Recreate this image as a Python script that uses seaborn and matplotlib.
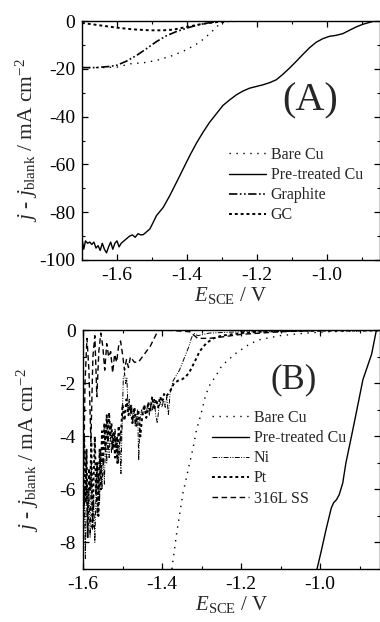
import matplotlib
matplotlib.use("Agg")
import matplotlib.pyplot as plt
from matplotlib.ticker import MultipleLocator
import seaborn as sns

# ---------------- panel A data ----------------
a_bare_e = [-1.70, -1.65, -1.60, -1.558, -1.525, -1.487, -1.44, -1.401, -1.363,
            -1.335, -1.316, -1.302, -1.28, -1.25, -0.85]
a_bare_j = [-19.5, -19.5, -19.3, -17.8, -17.5, -16.5, -14.4, -12.0, -8.8,
            -5.3, -2.5, -0.8, -0.1, 0.0, 0.0]

a_pre_e = [-1.700, -1.695, -1.690, -1.684, -1.678, -1.672, -1.666, -1.660, -1.654,
           -1.648, -1.642, -1.636, -1.630, -1.624, -1.618, -1.612, -1.606, -1.600,
           -1.594, -1.588, -1.580, -1.572, -1.564, -1.556, -1.548, -1.540, -1.532,
           -1.525, -1.506, -1.487, -1.468, -1.449, -1.430, -1.411, -1.392, -1.373,
           -1.354, -1.335, -1.316, -1.297, -1.278, -1.259, -1.240, -1.221, -1.202,
           -1.183, -1.164, -1.145, -1.126, -1.107, -1.088, -1.069, -1.050, -1.031,
           -1.012, -0.993, -0.974, -0.955, -0.936, -0.917, -0.898, -0.879, -0.864,
           -0.85]
a_pre_j = [-91.0, -95.5, -92.0, -93.0, -92.5, -93.5, -92.5, -95.0, -94.0,
           -96.0, -93.0, -95.5, -97.0, -94.5, -92.5, -95.5, -93.0, -92.0,
           -94.5, -93.0, -92.0, -91.0, -90.0, -89.5, -90.5, -89.0, -89.5,
           -89.4, -87.0, -81.4, -78.0, -73.0, -67.5, -61.9, -56.3, -51.1,
           -46.5, -42.3, -38.8, -35.3, -33.0, -30.9, -29.3, -28.1, -27.4,
           -26.7, -25.8, -24.6, -22.3, -19.7, -16.9, -14.0, -11.2, -8.9,
           -7.4, -6.4, -6.0, -5.3, -3.9, -2.5, -1.4, -0.6, 0.0,
           0.0]

a_gra_e = [-1.70, -1.66, -1.62, -1.60, -1.573, -1.544, -1.516, -1.487, -1.459,
           -1.43, -1.401, -1.373, -1.344, -1.316, -1.287, -0.85]
a_gra_j = [-19.5, -19.5, -19.0, -18.5, -16.8, -14.4, -11.6, -8.6, -6.2,
           -4.4, -3.0, -1.8, -0.9, -0.3, 0.0, 0.0]

a_gc_e = [-1.70, -1.65, -1.60, -1.554, -1.506, -1.468, -1.439, -1.401, -1.363,
          -1.325, -1.287, -1.25, -0.85]
a_gc_j = [-0.8, -1.8, -2.8, -3.5, -3.9, -3.9, -3.6, -2.5, -1.4,
          -0.6, -0.1, 0.0, 0.0]

# ---------------- panel B data ----------------
b_bare_e = [-1.375, -1.372, -1.363, -1.355, -1.347, -1.334, -1.321, -1.313, -1.306,
            -1.298, -1.29, -1.279, -1.262, -1.25, -1.237, -1.212, -1.178, -1.153,
            -1.103, -1.035, -0.98, -0.85]
b_bare_j = [-9.0, -8.65, -7.64, -6.89, -6.13, -5.25, -4.4, -3.75, -3.4,
            -2.95, -2.45, -2.05, -1.67, -1.36, -1.17, -0.85, -0.51, -0.35,
            -0.2, -0.1, -0.05, 0.0]

b_pre_e = [-1.008, -0.997, -0.985, -0.972, -0.966, -0.959, -0.952, -0.943, -0.935,
           -0.921, -0.91, -0.892, -0.87, -0.858, -0.85]
b_pre_j = [-9.0, -8.3, -7.5, -6.7, -6.5, -6.39, -6.2, -5.76, -5.0,
           -4.0, -3.2, -1.86, -0.9, 0.0, 0.0]

b_ni_e = [-1.600, -1.597, -1.594, -1.591, -1.588, -1.585, -1.582, -1.579, -1.576,
          -1.573, -1.570, -1.567, -1.564, -1.561, -1.558, -1.555, -1.552, -1.549,
          -1.546, -1.543, -1.540, -1.537, -1.534, -1.531, -1.528, -1.525, -1.522,
          -1.519, -1.516, -1.513, -1.510, -1.507, -1.504, -1.501, -1.498, -1.495,
          -1.492, -1.489, -1.486, -1.483, -1.480, -1.477, -1.474, -1.471, -1.468,
          -1.465, -1.462, -1.459, -1.456, -1.452, -1.448, -1.444, -1.440, -1.436,
          -1.432, -1.428, -1.424, -1.420, -1.416, -1.412, -1.408, -1.404, -1.400,
          -1.396, -1.392, -1.388, -1.384, -1.380, -1.372, -1.364, -1.356, -1.348,
          -1.340, -1.332, -1.326, -1.320, -1.310, -1.280, -1.200, -1.100, -1.000,
          -0.85]
b_ni_j = [-8.5, -6.0, -8.6, -5.5, -7.0, -6.0, -7.8, -5.0, -7.5,
          -6.2, -8.0, -6.0, -7.0, -5.5, -6.5, -4.5, -6.0, -4.8,
          -5.8, -4.2, -5.0, -4.0, -4.8, -3.8, -4.6, -3.9, -4.4,
          -3.7, -4.5, -4.0, -5.0, -4.2, -5.4, -3.5, -1.8, -1.6,
          -2.0, -1.8, -3.0, -2.6, -3.2, -2.8, -3.4, -3.0, -3.6,
          -3.2, -3.0, -4.9, -3.4, -3.0, -3.2, -2.9, -3.1, -2.8,
          -3.2, -2.7, -3.0, -2.6, -3.2, -3.5, -2.9, -2.7, -2.9,
          -2.6, -2.9, -2.5, -3.2, -2.4, -1.9, -1.7, -1.5, -1.2,
          -0.9, -0.6, -0.3, -0.1, -0.2, -0.1, -0.05, -0.05, 0.0,
          0.0]

b_pt_e = [-1.600, -1.597, -1.594, -1.591, -1.588, -1.585, -1.582, -1.579, -1.576,
          -1.573, -1.570, -1.567, -1.564, -1.561, -1.558, -1.555, -1.552, -1.549,
          -1.546, -1.543, -1.540, -1.537, -1.534, -1.531, -1.528, -1.525, -1.522,
          -1.519, -1.516, -1.513, -1.510, -1.505, -1.500, -1.495, -1.490, -1.485,
          -1.480, -1.475, -1.470, -1.465, -1.460, -1.455, -1.450, -1.445, -1.440,
          -1.435, -1.430, -1.425, -1.420, -1.415, -1.410, -1.405, -1.400, -1.395,
          -1.390, -1.380, -1.370, -1.360, -1.350, -1.340, -1.330, -1.317, -1.305,
          -1.288, -1.270, -1.250, -1.200, -1.150, -1.100, -0.85]
b_pt_j = [-5.0, -4.0, -6.5, -4.5, -7.8, -5.2, -6.0, -4.2, -7.5,
          -5.5, -4.0, -6.2, -5.0, -7.0, -4.5, -6.0, -3.8, -5.0,
          -3.5, -4.5, -3.2, -4.2, -3.1, -4.0, -3.5, -4.5, -3.8,
          -4.8, -4.0, -5.0, -3.6, -4.2, -2.8, -3.4, -2.6, -3.2,
          -2.8, -3.5, -2.9, -3.6, -3.0, -4.0, -3.2, -2.8, -3.3,
          -2.7, -3.1, -2.5, -3.0, -2.6, -2.9, -2.5, -2.7, -2.4,
          -2.5, -2.3, -2.0, -1.9, -1.85, -1.75, -1.55, -1.17, -0.79,
          -0.48, -0.3, -0.2, -0.1, -0.05, -0.02, 0.0]

b_ss_e = [-1.600, -1.595, -1.590, -1.585, -1.580, -1.575, -1.570, -1.565, -1.560,
          -1.555, -1.550, -1.545, -1.540, -1.535, -1.530, -1.525, -1.520, -1.515,
          -1.510, -1.505, -1.500, -1.495, -1.490, -1.485, -1.480, -1.470, -1.460,
          -1.450, -1.440, -1.430, -1.420, -1.410, -1.380, -1.330, -1.310, -1.280,
          -1.250, -1.200, -1.100, -1.000, -0.85]
b_ss_j = [-7.5, -2.0, -0.3, -1.5, -4.2, -1.0, -0.2, -2.5, -0.8,
          -0.1, -0.6, -1.5, -0.5, -1.0, -0.8, -1.6, -0.9, -1.2,
          -0.6, -0.4, -0.9, -1.5, -1.1, -1.4, -1.0, -1.2, -1.2,
          -1.0, -0.8, -0.6, -0.3, 0.0, 0.0, -0.05, -0.3, -0.3,
          -0.25, -0.15, -0.05, 0.0, 0.0]

# ---------------- style ----------------
sns.set_style("ticks")
plt.rcParams.update({
    "font.family": ["Liberation Serif", "DejaVu Serif"],
    "mathtext.fontset": "custom",
    "mathtext.rm": "Liberation Serif",
    "mathtext.it": "Liberation Serif:italic",
    "axes.unicode_minus": False,
    "axes.linewidth": 1.0,
    "axes.edgecolor": "black",
    "xtick.direction": "in",
    "ytick.direction": "in",
    "xtick.top": True,
    "ytick.right": True,
    "xtick.color": "black",
    "ytick.color": "black",
})

DOT_SPARSE = (0, (1.0, 4.0))
DASH_DOT_DOT = (0, (5.0, 1.5, 1.0, 1.5, 1.0, 1.5))
DOT_DENSE = (0, (1.5, 1.5))
DASHED = (0, (4.0, 2.5))

fig = plt.figure(figsize=(3.8, 6.22), dpi=100)
axA = fig.add_axes([82 / 380, 1 - 260 / 622, 297.5 / 380, 239 / 622])
axB = fig.add_axes([83 / 380, 1 - 569 / 622, 296.5 / 380, 238.6 / 622])

ylab = r"$j$ - $j_{\rm blank}$ / mA cm$^{-2}$"
xlab = r"$E_{\rm SCE}$ / V"


def style_axes(ax, xmin, ymin, ymaj, ymin_step):
    ax.set_xlim(xmin, -0.85)
    ax.set_ylim(ymin, 0)
    ax.xaxis.set_major_locator(MultipleLocator(0.2))
    ax.xaxis.set_minor_locator(MultipleLocator(0.1))
    ax.yaxis.set_major_locator(MultipleLocator(ymaj))
    ax.yaxis.set_minor_locator(MultipleLocator(ymin_step))
    ax.tick_params(which="both", direction="in", top=True, right=True,
                   labelsize=14, pad=5)
    ax.tick_params(which="major", length=4, width=0.9)
    ax.tick_params(which="minor", length=2.5, width=0.8)
    ax.set_xlabel(xlab, fontsize=15, labelpad=1)
    ax.set_ylabel(ylab, fontsize=15.5)
    ax.yaxis.set_label_coords(-0.14, 0.5)
    for s in ax.spines.values():
        s.set_visible(True)
        s.set_linewidth(1.0)


LEG = dict(loc="upper left", frameon=False, fontsize=11.5, handlelength=2.3,
           handletextpad=0.3, labelspacing=0.26, borderpad=0, borderaxespad=0)

# ---------------- (A) ----------------
sns.lineplot(x=a_bare_e, y=a_bare_j, ax=axA, color="black", lw=1.0,
             linestyle=DOT_SPARSE, label="Bare Cu")
sns.lineplot(x=a_pre_e, y=a_pre_j, ax=axA, color="black", lw=1.0,
             linestyle="-", label="Pre-treated Cu")
sns.lineplot(x=a_gra_e, y=a_gra_j, ax=axA, color="black", lw=1.2,
             linestyle=DASH_DOT_DOT, label="Graphite")
sns.lineplot(x=a_gc_e, y=a_gc_j, ax=axA, color="black", lw=1.4,
             linestyle=DOT_DENSE, label="GC")
style_axes(axA, -1.7, -100, 20, 10)
axA.text(-1.047, -33.6, "(A)", fontsize=29, ha="center", va="center")
axA.legend(bbox_to_anchor=(229 / 380, 1 - 147 / 622),
           bbox_transform=fig.transFigure, **LEG)

# ---------------- (B) ----------------
sns.lineplot(x=b_bare_e, y=b_bare_j, ax=axB, color="black", lw=1.0,
             linestyle=DOT_SPARSE, label="Bare Cu")
sns.lineplot(x=b_pre_e, y=b_pre_j, ax=axB, color="black", lw=1.0,
             linestyle="-", label="Pre-treated Cu")
sns.lineplot(x=b_ni_e, y=b_ni_j, ax=axB, color="black", lw=0.7,
             linestyle=DASH_DOT_DOT, label="Ni")
sns.lineplot(x=b_pt_e, y=b_pt_j, ax=axB, color="black", lw=1.4,
             linestyle=DOT_DENSE, label="Pt")
sns.lineplot(x=b_ss_e, y=b_ss_j, ax=axB, color="black", lw=1.0,
             linestyle=DASHED, label="316L SS")
style_axes(axB, -1.6, -9, 2, 1)
axB.text(-1.067, -1.86, "(B)", fontsize=25, ha="center", va="center")
axB.legend(bbox_to_anchor=(212 / 380, 1 - 410 / 622),
           bbox_transform=fig.transFigure, **LEG)

fig.savefig("out.png", dpi=100, facecolor="white")
